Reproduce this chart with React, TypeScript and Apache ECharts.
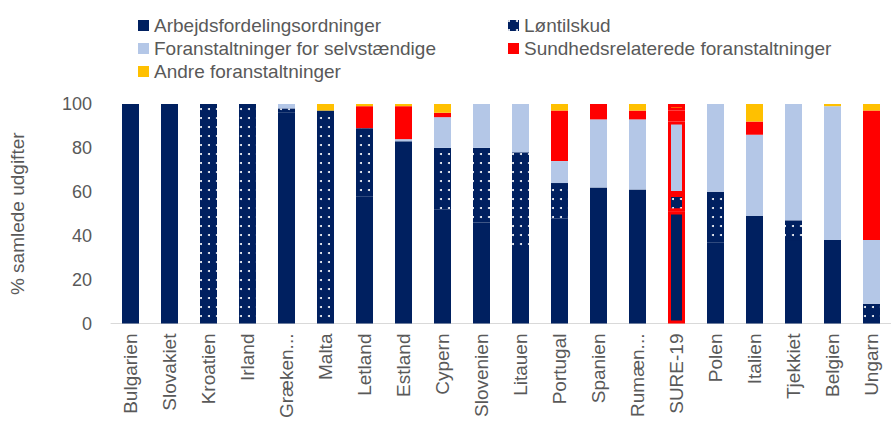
import React, { useEffect, useRef } from "react";
import * as echarts from "echarts";

const categories = [
  "Bulgarien", "Slovakiet", "Kroatien", "Irland", "Grækenland", "Malta", "Letland", "Estland",
  "Cypern", "Slovenien", "Litauen", "Portugal", "Spanien", "Rumænien", "SURE-19", "Polen",
  "Italien", "Tjekkiet", "Belgien", "Ungarn",
];
// tick labels as shown (truncated where the original chart truncates)
const tickLabels = [
  "Bulgarien", "Slovakiet", "Kroatien", "Irland", "Græken...", "Malta", "Letland", "Estland",
  "Cypern", "Slovenien", "Litauen", "Portugal", "Spanien", "Rumæn...", "SURE-19", "Polen",
  "Italien", "Tjekkiet", "Belgien", "Ungarn",
];

const arbejdsfordeling = [100, 100, 0, 0, 96, 0, 58, 83, 52, 46, 34, 48, 62, 61, 51, 37, 49, 38, 38, 0];
const loentilskud = [0, 0, 100, 100, 2, 97, 31, 0, 28, 34, 44, 16, 0, 0, 8, 23, 0, 9, 0, 9];
const selvstaendige = [0, 0, 0, 0, 2, 0, 0, 1, 14, 20, 22, 10, 31, 32, 33, 40, 37, 53, 61, 29];
const sundhed = [0, 0, 0, 0, 0, 0, 10, 15, 2, 0, 0, 23, 7, 4, 5, 0, 6, 0, 0, 59];
const andre = [0, 0, 0, 0, 0, 3, 1, 1, 4, 0, 0, 3, 0, 3, 3, 0, 8, 0, 1, 3];

const yTicks = { min: 0, max: 100, interval: 20 };
const highlightCategory = "SURE-19";

const seriesNames = [
  "Arbejdsfordelingsordninger",
  "Løntilskud",
  "Foranstaltninger for selvstændige",
  "Sundhedsrelaterede foranstaltninger",
  "Andre foranstaltninger",
];
const seriesColors = ["#002060", "#002060", "#B4C7E7", "#FF0000", "#FFC000"];

const FONT = "'Liberation Sans', Arial, sans-serif";
const TEXT = "#595959";

export default function App() {
  const ref = useRef<HTMLDivElement>(null);
  useEffect(() => {
    if (!ref.current) return;
    const chart = echarts.init(ref.current, null, { renderer: "svg" });
    const allValues = [arbejdsfordeling, loentilskud, selvstaendige, sundhed, andre];
    const series = allValues.map((vals, si) => ({
      name: seriesNames[si],
      type: "bar",
      stack: "total",
      barWidth: 17,
      itemStyle: {
        color: seriesColors[si],
        ...(si === 1
          ? {
              decal: {
                symbol: "circle",
                symbolSize: 1,
                color: "#FFFFFF",
                dashArrayX: [2, 6],
                dashArrayY: [2, 7],
              },
            }
          : {}),
      },
      data: vals.map((v, i) =>
        categories[i] === highlightCategory
          ? { value: v, itemStyle: { borderColor: "#FF0000", borderWidth: 3 } }
          : v
      ),
    }));
    const legendText = { color: TEXT, fontSize: 19, fontFamily: FONT };
    const legendBase = {
      orient: "vertical",
      top: 11,
      itemGap: 4,
      itemWidth: 11,
      itemHeight: 11,
      icon: "rect",
      itemStyle: { borderWidth: 0 },
      textStyle: legendText,
    };
    chart.setOption({
      animation: false,
      textStyle: { fontFamily: FONT },
      legend: [
        { ...legendBase, data: [seriesNames[0], seriesNames[2], seriesNames[4]], left: 133 },
        { ...legendBase, data: [seriesNames[1], seriesNames[3]], left: 503 },
      ],
      grid: { left: 102, top: 104, width: 800, height: 221, containLabel: false },
      xAxis: {
        type: "category",
        data: categories,
        axisLine: { lineStyle: { color: "#D9D9D9", width: 1 } },
        axisTick: { show: false },
        axisLabel: {
          interval: 0,
          rotate: 90,
          margin: 10,
          color: TEXT,
          fontSize: 19,
          fontFamily: FONT,
          formatter: (v: string) => tickLabels[categories.indexOf(v)] ?? v,
        },
      },
      yAxis: {
        type: "value",
        min: yTicks.min,
        max: yTicks.max,
        interval: yTicks.interval,
        name: "% samlede udgifter",
        nameLocation: "middle",
        nameGap: 84,
        nameTextStyle: { color: TEXT, fontSize: 19, fontFamily: FONT },
        splitLine: { show: false },
        axisLine: { show: false },
        axisTick: { show: false },
        axisLabel: { color: TEXT, fontSize: 18, fontFamily: FONT, margin: 19 },
      },
      series,
    });
    return () => chart.dispose();
  }, []);
  return (
    <div
      ref={ref}
      style={{ position: "fixed", left: 0, top: 0, width: 891, height: 421, background: "#fff" }}
    />
  );
}
